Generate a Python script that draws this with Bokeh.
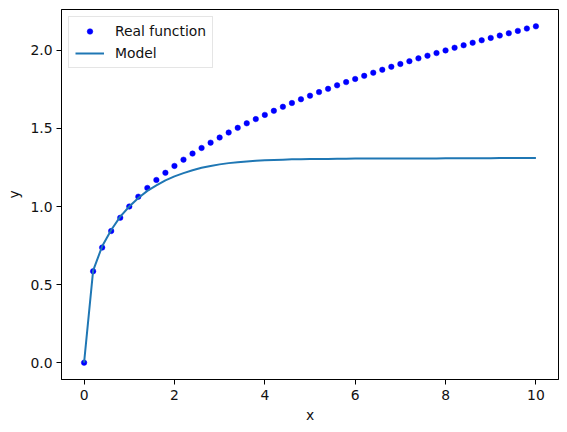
from bokeh.plotting import figure
from bokeh.models import Range1d, Legend, LegendItem
from bokeh.embed import file_html
from bokeh.resources import INLINE

x_values = [0.0, 0.2, 0.4, 0.6, 0.8, 1.0, 1.2, 1.4, 1.6, 1.8,
            2.0, 2.2, 2.4, 2.6, 2.8, 3.0, 3.2, 3.4, 3.6, 3.8,
            4.0, 4.2, 4.4, 4.6, 4.8, 5.0, 5.2, 5.4, 5.6, 5.8,
            6.0, 6.2, 6.4, 6.6, 6.8, 7.0, 7.2, 7.4, 7.6, 7.8,
            8.0, 8.2, 8.4, 8.6, 8.8, 9.0, 9.2, 9.4, 9.6, 9.8, 10.0]

real_values = [0.0, 0.585, 0.737, 0.843, 0.928, 1.0, 1.063, 1.119, 1.17, 1.216,
               1.26, 1.3, 1.339, 1.375, 1.409, 1.442, 1.474, 1.504, 1.533, 1.56,
               1.587, 1.613, 1.639, 1.663, 1.687, 1.71, 1.733, 1.754, 1.776, 1.797,
               1.817, 1.837, 1.857, 1.876, 1.895, 1.913, 1.931, 1.949, 1.966, 1.983,
               2.0, 2.017, 2.033, 2.049, 2.065, 2.08, 2.095, 2.11, 2.125, 2.14, 2.154]

model_values = [0.0, 0.59, 0.745, 0.85, 0.935, 1.0, 1.055, 1.1, 1.135, 1.168,
                1.193, 1.214, 1.232, 1.248, 1.26, 1.27, 1.278, 1.284, 1.289, 1.293,
                1.296, 1.298, 1.3, 1.302, 1.303, 1.304, 1.305, 1.305, 1.306, 1.306,
                1.307, 1.307, 1.307, 1.307, 1.308, 1.308, 1.308, 1.308, 1.308, 1.308,
                1.309, 1.309, 1.309, 1.309, 1.309, 1.309, 1.31, 1.31, 1.31, 1.31, 1.31]

x_ticks = [0, 2, 4, 6, 8, 10]
y_ticks = [0.0, 0.5, 1.0, 1.5, 2.0]

FONT = "DejaVu Sans"
FS = "13.9px"

p = figure(width=559, height=431, output_backend="svg", toolbar_location=None,
           x_range=Range1d(-0.5, 10.5), y_range=Range1d(-0.108, 2.262),
           min_border_left=61, min_border_right=1, min_border_top=9, min_border_bottom=52)

p.xgrid.visible = False
p.ygrid.visible = False
p.outline_line_color = "black"
p.outline_line_width = 1
p.outline_line_alpha = 1.0

r_real = p.scatter(x_values, real_values, size=5.5, color="#0000ff",
                   line_color="#0000ff", line_width=0.5)
r_model = p.line(x_values, model_values, line_color="#1f77b4", line_width=2)

for ax in (p.xaxis[0], p.yaxis[0]):
    ax.major_tick_out = 5
    ax.major_tick_in = 0
    ax.minor_tick_out = 0
    ax.minor_tick_in = 0
    ax.major_tick_line_color = "black"
    ax.axis_line_color = "black"
    ax.major_label_text_font = FONT
    ax.major_label_text_font_size = FS
    ax.major_label_text_color = "#111111"
    ax.axis_label_text_font = FONT
    ax.axis_label_text_font_size = FS
    ax.axis_label_text_font_style = "normal"
    ax.axis_label_text_color = "#111111"

p.xaxis.ticker = x_ticks
p.yaxis.ticker = y_ticks
p.xaxis.major_label_overrides = {t: str(t) for t in x_ticks}
p.yaxis.major_label_overrides = {t: f"{t:.1f}" for t in y_ticks}
p.xaxis.major_label_standoff = 5
p.yaxis.major_label_standoff = 4
p.xaxis.axis_label = "x"
p.yaxis.axis_label = "y"
p.xaxis.axis_label_standoff = 4
p.yaxis.axis_label_standoff = 5

legend = Legend(items=[LegendItem(label="Real function", renderers=[r_real]),
                       LegendItem(label="Model", renderers=[r_model])],
                location="top_left")
legend.margin = 7
legend.padding = 6
legend.spacing = 6
legend.glyph_width = 29
legend.glyph_height = 14
legend.label_standoff = 11
legend.label_height = 14
legend.label_text_font = FONT
legend.label_text_font_size = FS
legend.label_text_color = "#111111"
legend.border_line_color = "#cccccc"
legend.border_line_width = 1
legend.background_fill_alpha = 0.8
p.add_layout(legend)

open("out.html", "w").write(file_html(p, INLINE))
